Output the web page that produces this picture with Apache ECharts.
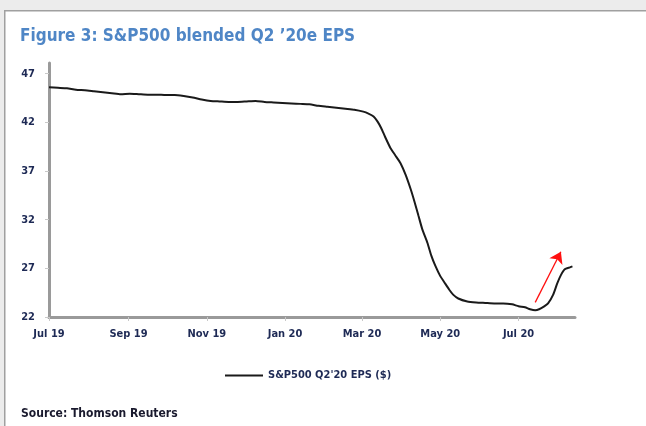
<!DOCTYPE html>
<html><head><meta charset="utf-8">
<script src="https://cdn.jsdelivr.net/npm/echarts@6/dist/echarts.min.js"></script>
<style>html,body{margin:0;padding:0;background:#ececec;}#c{width:646px;height:426px;}</style>
</head><body><div id="c"></div>
<script>
const dates = ["2019-07-01","2019-07-08","2019-07-15","2019-07-22","2019-07-29","2019-08-05","2019-08-12","2019-08-19","2019-08-26","2019-09-02","2019-09-09","2019-09-16","2019-09-23","2019-09-30","2019-10-07","2019-10-14","2019-10-21","2019-10-28","2019-11-04","2019-11-11","2019-11-18","2019-11-25","2019-12-02","2019-12-09","2019-12-16","2019-12-23","2019-12-30","2020-01-06","2020-01-13","2020-01-20","2020-01-27","2020-02-03","2020-02-10","2020-02-17","2020-02-24","2020-03-02","2020-03-06","2020-03-10","2020-03-13","2020-03-16","2020-03-19","2020-03-23","2020-03-27","2020-03-31","2020-04-04","2020-04-08","2020-04-11","2020-04-14","2020-04-17","2020-04-21","2020-04-24","2020-04-27","2020-05-01","2020-05-04","2020-05-08","2020-05-11","2020-05-15","2020-05-22","2020-05-29","2020-06-05","2020-06-12","2020-06-19","2020-06-26","2020-07-01","2020-07-06","2020-07-10","2020-07-14","2020-07-17","2020-07-21","2020-07-24","2020-07-28","2020-07-31","2020-08-03","2020-08-06","2020-08-10","2020-08-12"];
const eps = [45.6,45.55,45.5,45.35,45.3,45.2,45.1,45.0,44.9,44.95,44.9,44.85,44.85,44.8,44.8,44.7,44.55,44.35,44.2,44.15,44.1,44.1,44.15,44.2,44.1,44.05,44.0,43.95,43.9,43.85,43.7,43.6,43.5,43.4,43.3,43.1,42.9,42.6,42.1,41.4,40.5,39.4,38.6,37.8,36.6,35.1,33.8,32.4,31.0,29.6,28.3,27.3,26.2,25.6,24.8,24.3,23.9,23.6,23.5,23.45,23.4,23.4,23.3,23.1,23.0,22.8,22.7,22.8,23.1,23.4,24.3,25.4,26.3,26.9,27.1,27.2];
const xTickDates = ["2019-07-01","2019-09-01","2019-11-01","2020-01-01","2020-03-01","2020-05-01","2020-07-01"];
const xTickLabels = ["Jul 19","Sep 19","Nov 19","Jan 20","Mar 20","May 20","Jul 20"];
const yTicks = [22,27,32,37,42,47];
const arrowStart = ["2020-07-14", 23.5];
const arrowEnd = ["2020-08-03", 28.7];
const titleText = "Figure 3: S&P500 blended Q2 \u201920e EPS";
const seriesName = "S&P500 Q2'20 EPS ($)";
const sourceText = "Source: Thomson Reuters";

const ts = d => new Date(d + "T00:00:00Z").getTime();
const tickTs = xTickDates.map(ts);
const FONT = '"DejaVu Sans Condensed", "Liberation Sans", Arial, sans-serif';
const labelColor = '#1e2a55';

const chart = echarts.init(document.getElementById('c'), null, {renderer: 'canvas'});
chart.setOption({
  animation: false,
  backgroundColor: '#ffffff',
  graphic: [
    {type: 'rect', shape: {x: 0, y: 0, width: 646, height: 10}, style: {fill: '#ececec'}, z: 100},
    {type: 'rect', shape: {x: 0, y: 0, width: 4, height: 426}, style: {fill: '#ececec'}, z: 100},
    {type: 'rect', shape: {x: 4, y: 10, width: 642, height: 1.5}, style: {fill: '#a0a0a0'}, z: 100},
    {type: 'rect', shape: {x: 4, y: 10, width: 1.5, height: 416}, style: {fill: '#a0a0a0'}, z: 100}
  ],
  title: [
    {text: titleText, left: 15, top: 23, textStyle: {fontFamily: FONT, fontSize: 17, fontWeight: 'bold', color: '#4f86c6'}},
    {text: sourceText, left: 16, top: 403, textStyle: {fontFamily: FONT, fontSize: 12, fontWeight: 'bold', color: '#1a1a2e'}}
  ],
  legend: {
    left: 220, top: 365, itemWidth: 38, itemHeight: 2, itemGap: 4,
    icon: 'rect',
    data: [{name: seriesName}],
    textStyle: {fontFamily: FONT, fontSize: 11, fontWeight: 'bold', color: labelColor}
  },
  grid: {left: 49, right: 71, top: 63, bottom: 109, containLabel: false},
  xAxis: {
    type: 'value',
    min: ts("2019-07-01"), max: ts("2020-08-14"),
    axisLine: {lineStyle: {color: '#9a9a9a', width: 3}},
    axisTick: {show: true, customValues: tickTs, length: 4, lineStyle: {color: '#c8c8c8', width: 1}},
    axisLabel: {
      customValues: tickTs, margin: 12,
      fontFamily: FONT, fontSize: 11, fontWeight: 'bold', color: labelColor,
      formatter: v => { const i = tickTs.indexOf(v); return i >= 0 ? xTickLabels[i] : ''; }
    },
    splitLine: {show: false}
  },
  yAxis: {
    type: 'value', min: 22, max: 48.1,
    axisLine: {show: true, lineStyle: {color: '#9a9a9a', width: 3}},
    axisTick: {show: true, customValues: yTicks, length: 4, lineStyle: {color: '#c8c8c8', width: 1}},
    axisLabel: {customValues: yTicks, margin: 14, fontFamily: FONT, fontSize: 11, fontWeight: 'bold', color: labelColor},
    splitLine: {show: false}
  },
  series: [{
    name: seriesName, type: 'line', showSymbol: false, smooth: 0.2,
    lineStyle: {color: '#1a1a1a', width: 2},
    itemStyle: {color: '#1a1a1a'},
    data: dates.map((d, i) => [ts(d), eps[i]]),
    markLine: {
      silent: true, symbol: ['none', 'arrow'], symbolSize: 11,
      label: {show: false},
      lineStyle: {color: '#ff1010', width: 1.3, type: 'solid'},
      data: [[{coord: [ts(arrowStart[0]), arrowStart[1]]}, {coord: [ts(arrowEnd[0]), arrowEnd[1]]}]]
    }
  }]
});
</script></body></html>
